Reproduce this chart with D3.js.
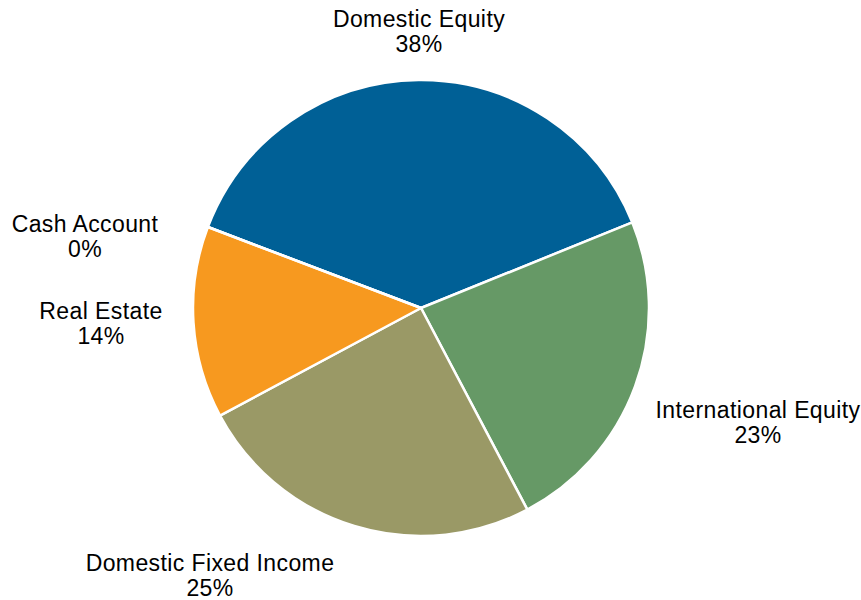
<!DOCTYPE html>
<html><head><meta charset="utf-8">
<script src="https://cdn.jsdelivr.net/npm/d3@7"></script>
<style>html,body{margin:0;padding:0;background:#fff;}svg{display:block;}</style>
</head><body>
<svg id="chart" width="861" height="600"></svg>
<script>
const categories = ["Domestic Equity","International Equity","Domestic Fixed Income","Real Estate","Cash Account"];
const values = [38.1, 23.4, 24.9, 13.6, 0.0];
const colors = ["#006096","#669966","#9a9966","#f7991f","#888888"];
// label anchor positions (text centre x, first baseline y)
const labelPos = [[419,27],[758,418],[210,571],[101,319],[85,232]];

const svg = d3.select("#chart");
const cx = 421, cy = 308, r = 228;
const total = d3.sum(values);
const pie = d3.pie().sort(null).value(d => d)
  .startAngle(-69.2*Math.PI/180).endAngle(-69.2*Math.PI/180 + 2*Math.PI);
const arcs = pie(values);
const arc = d3.arc().innerRadius(0).outerRadius(r);
const g = svg.append("g").attr("transform", `translate(${cx},${cy})`);
g.selectAll("path").data(arcs).join("path")
  .attr("d", arc)
  .attr("fill", (d,i) => colors[i])
  .attr("stroke", "#fff").attr("stroke-width", 2.5).attr("stroke-linejoin","round");

const fmt = d3.format(".0%");
const lbl = svg.append("g").attr("font-family","Liberation Sans, Arial, sans-serif")
  .attr("font-size", 23).attr("letter-spacing", "0.4px").attr("fill","#000").attr("text-anchor","middle");
categories.forEach((c,i) => {
  const t = lbl.append("text").attr("x", labelPos[i][0]).attr("y", labelPos[i][1]);
  t.append("tspan").attr("x", labelPos[i][0]).text(c);
  t.append("tspan").attr("x", labelPos[i][0]).attr("dy", 25).text(fmt(values[i]/total));
});
</script>
</body></html>
